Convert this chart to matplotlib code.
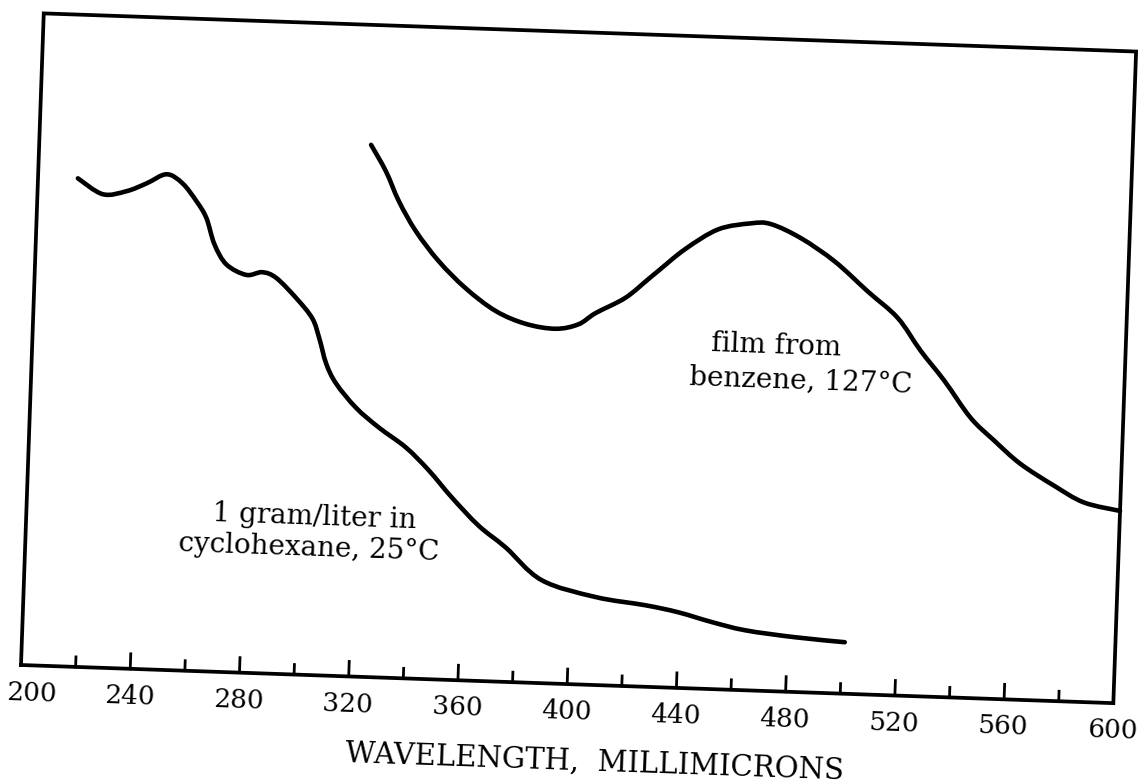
import numpy as np
import matplotlib
matplotlib.use("Agg")
import matplotlib.pyplot as plt
from matplotlib.path import Path
from matplotlib.patches import PathPatch
from matplotlib.transforms import Affine2D, ScaledTranslation

# Absorption spectra, arbitrary absorbance units (0 = baseline, 1 = top of frame)
cyclohexane_nm = [214.6, 223.9, 232.6, 239.8, 247.0, 252.9, 258.3, 262.1, 265.4,
                  270.0, 277.4, 283.2, 288.4, 296.0, 302.1, 304.9, 307.8, 311.7,
                  319.3, 327.9, 338.0, 346.7, 355.4, 365.6, 375.8, 389.3, 409.2,
                  427.6, 439.7, 451.9, 464.4, 482.7, 501.0]
cyclohexane_abs = [0.749, 0.726, 0.732, 0.745, 0.760, 0.747, 0.720, 0.695, 0.655,
                   0.625, 0.610, 0.615, 0.607, 0.577, 0.547, 0.517, 0.478, 0.448,
                   0.412, 0.383, 0.354, 0.320, 0.280, 0.238, 0.206, 0.158, 0.135,
                   0.125, 0.116, 0.103, 0.092, 0.084, 0.079]

film_nm = [321.4, 327.2, 332.3, 338.9, 347.7, 357.9, 369.1, 380.2, 391.2, 399.5,
           405.6, 416.3, 424.5, 428.0, 437.6, 449.4, 461.3, 468.6, 479.8, 492.5,
           504.9, 516.2, 525.0, 534.1, 544.1, 553.1, 562.9, 575.6, 586.7, 600.0]
film_abs = [0.816, 0.776, 0.731, 0.686, 0.641, 0.601, 0.568, 0.550, 0.544, 0.552,
            0.570, 0.595, 0.625, 0.638, 0.673, 0.705, 0.716, 0.716, 0.696, 0.662,
            0.618, 0.579, 0.530, 0.485, 0.430, 0.396, 0.362, 0.330, 0.306, 0.295]

major_ticks = [200, 240, 280, 320, 360, 400, 440, 480, 520, 560, 600]
minor_ticks = [220, 260, 300, 340, 380, 420, 460, 500, 540, 580]


def smooth_path(xs, ys):
    # Catmull-Rom through every point, written as cubic Bezier segments
    p = np.column_stack([xs, ys])
    ext = np.vstack([p[0], p, p[-1]])
    verts = [p[0]]
    codes = [Path.MOVETO]
    for i in range(1, len(ext) - 2):
        c1 = ext[i] + (ext[i + 1] - ext[i - 1]) / 6
        c2 = ext[i + 1] - (ext[i + 2] - ext[i]) / 6
        verts += [c1, c2, ext[i + 1]]
        codes += [Path.CURVE4] * 3
    return Path(verts, codes)


W, H = 1142, 783
fig = plt.figure(figsize=(W / 100, H / 100), dpi=100)
fig.patch.set_facecolor("white")

x0, y0, aw, ah = 21, 118, 1093, 652
ax = fig.add_axes([x0 / W, y0 / H, aw / W, ah / H])
ax.set_xlim(200, 600)
ax.set_ylim(0, 1)
ax.axis("off")

# the whole plate sits tilted by about two degrees
tilt = -2.0
rot = Affine2D().rotate_deg_around(x0, y0, tilt)
data_tr = ax.transData + rot
axes_tr = ax.transAxes + rot
xax_tr = ax.get_xaxis_transform() + rot

serif = "DejaVu Serif"
ink = "black"

# frame
ax.plot([0, 1, 1, 0, 0], [0, 0, 1, 1, 0], color=ink, lw=2.7,
        transform=axes_tr, clip_on=False, solid_joinstyle="miter")

# inward ticks on the bottom edge
for t in major_ticks[1:-1]:
    ax.plot([t, t], [0, 15 / ah], color=ink, lw=2.0, transform=xax_tr, clip_on=False)
for t in minor_ticks:
    ax.plot([t, t], [0, 10 / ah], color=ink, lw=2.0, transform=xax_tr, clip_on=False)

for i, t in enumerate(major_ticks):
    tr = xax_tr
    if i == 0:
        tr = ax.get_xaxis_transform() + ScaledTranslation(12 / 100, 0, fig.dpi_scale_trans) + rot
    ax.text(t, -15 / ah, str(t), transform=tr, ha="center", va="top",
            rotation=tilt, rotation_mode="anchor", fontsize=19,
            family=serif, color=ink)

ax.text(411, -0.118, "WAVELENGTH,  MILLIMICRONS", transform=data_tr,
        ha="center", va="center", rotation=tilt, rotation_mode="anchor",
        fontsize=21, family=serif, color=ink)

# spectra
for xs, ys in [(cyclohexane_nm, cyclohexane_abs), (film_nm, film_abs)]:
    ax.add_patch(PathPatch(smooth_path(xs, ys), fill=False, edgecolor=ink,
                           lw=3.3, transform=data_tr, clip_on=False,
                           joinstyle="round", capstyle="round"))

labels = [
    (472.0, 0.529, "film from"),
    (481.6, 0.476, "benzene, 127°C"),
    (305.4, 0.242, "1 gram/liter in"),
    (303.9, 0.194, "cyclohexane, 25°C"),
]
for lx, ly, s in labels:
    ax.text(lx, ly, s, transform=data_tr, ha="center", va="center",
            rotation=tilt, rotation_mode="anchor", fontsize=20,
            family=serif, color=ink)

fig.savefig("out.png", dpi=100, facecolor="white")
